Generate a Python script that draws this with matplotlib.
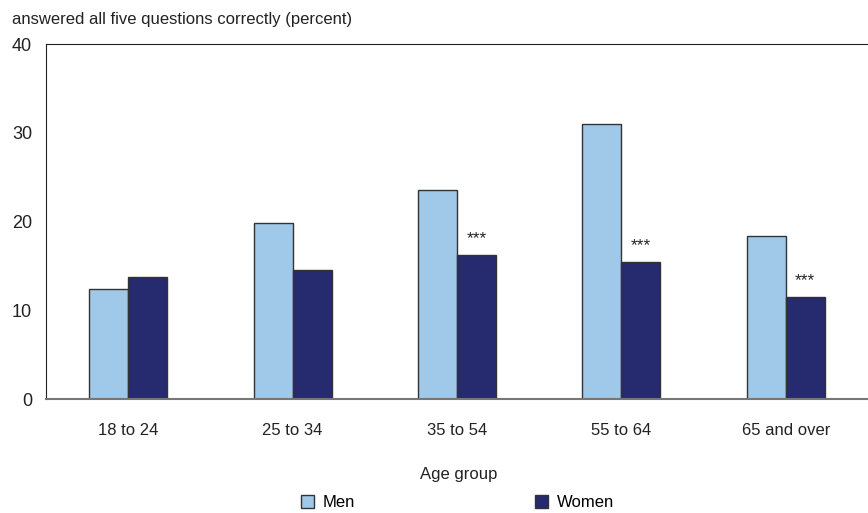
import matplotlib
matplotlib.use("Agg")
import matplotlib.pyplot as plt
import matplotlib.patches as mpatches
import numpy as np

plt.rcParams['font.family'] = ['Liberation Sans Narrow', 'Liberation Sans', 'DejaVu Sans']

# Share answering all five questions correctly, by age group and sex
age_groups = ["18 to 24", "25 to 34", "35 to 54", "55 to 64", "65 and over"]
men = [12.4, 19.8, 23.6, 31.0, 18.4]
women = [13.8, 14.6, 16.2, 15.5, 11.5]
women_flags = ["", "", "***", "***", "***"]

men_color = "#a0c8e8"
women_color = "#262a6e"
edge = "#333333"

fig = plt.figure(figsize=(8.68, 5.13), dpi=100)
ax = fig.add_axes([0.053, 0.222, 0.947, 0.692])

x = np.arange(len(age_groups))
w = 0.237
ax.bar(x - w / 2, men, width=w, color=men_color, edgecolor=edge, linewidth=1.0)
ax.bar(x + w / 2, women, width=w, color=women_color, edgecolor=edge, linewidth=1.0)

for xi, val, flag in zip(x, women, women_flags):
    if flag:
        ax.text(xi + w / 2, val + 1.0, flag, ha="center", va="bottom",
                fontsize=12.5, color="#222222")

ax.set_xlim(-0.5, len(age_groups) - 0.5)
ax.set_ylim(0, 40)
ax.set_yticks([0, 10, 20, 30, 40])
ax.set_xticks(x)
ax.set_xticklabels(age_groups)
ax.tick_params(axis="y", length=0, pad=10, labelsize=13, colors="#222222")
ax.tick_params(axis="x", length=0, pad=17, labelsize=12, colors="#222222")

ax.spines["right"].set_visible(False)
ax.spines["top"].set_color("#222222")
ax.spines["left"].set_color("#222222")
ax.spines["bottom"].set_color("#777777")
ax.spines["bottom"].set_linewidth(1.5)

fig.text(0.014, 0.962, "answered all five questions correctly (percent)",
         fontsize=12, color="#222222", va="center", ha="left")
fig.text(0.528, 0.076, "Age group", fontsize=12, color="#222222",
         ha="center", va="center")

handles = [
    mpatches.Patch(facecolor=men_color, edgecolor=edge, label="Men"),
    mpatches.Patch(facecolor=women_color, edgecolor=edge, label="Women"),
]
fig.legend(handles=handles, loc="center", bbox_to_anchor=(0.527, 0.02), ncol=2,
           frameon=False, fontsize=12, handlelength=0.8, handleheight=0.8,
           handletextpad=0.5, columnspacing=10.8)

fig.savefig("out.png", dpi=100)
